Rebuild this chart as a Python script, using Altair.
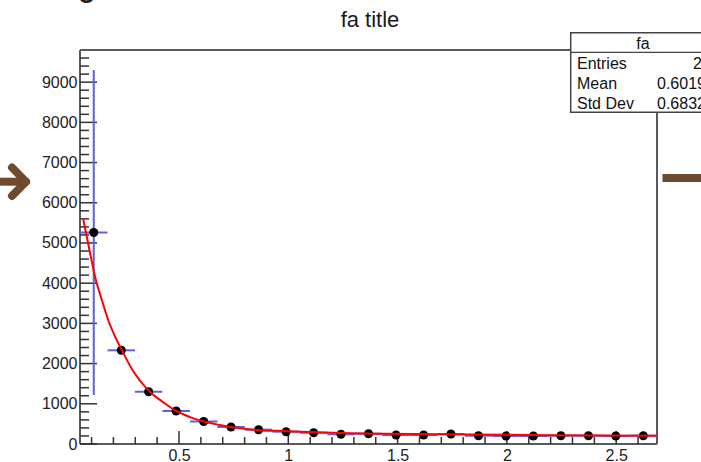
import altair as alt
import pandas as pd

# ---- histogram "fa": bin centres, contents and errors ----
bin_centers = [0.110, 0.236, 0.361, 0.487, 0.613, 0.738, 0.864, 0.990, 1.116, 1.241,
               1.367, 1.493, 1.619, 1.744, 1.870, 1.996, 2.121, 2.247, 2.373, 2.498, 2.624]
bin_half_width = 0.0628
counts = [5260, 2330, 1300, 821, 560, 423, 356, 306, 281, 241,
          256, 224, 224, 249, 206, 199, 199, 206, 206, 199, 206]
count_errors = [4040, 0, 0, 0, 0, 0, 0, 0, 0, 0,
                0, 0, 0, 0, 0, 0, 0, 0, 0, 0, 0]

# ---- fitted function, sampled along x ----
fit_x = [0.062, 0.090, 0.116, 0.146, 0.176, 0.205, 0.238, 0.283, 0.367, 0.430, 0.487,
         0.550, 0.613, 0.680, 0.738, 0.800, 0.866, 0.994, 1.200, 1.450, 1.820, 2.200, 2.687]
fit_y = [5590, 4830, 4160, 3600, 3085, 2700, 2338, 1880, 1300, 1030, 821,
         670, 560, 480, 423, 380, 345, 320, 280, 255, 235, 220, 206]

# ---- axis ticks ----
x_major = [0.5, 1.0, 1.5, 2.0, 2.5]
x_minor = [0.1, 0.2, 0.3, 0.4, 0.6, 0.7, 0.8, 0.9, 1.1, 1.2, 1.3, 1.4, 1.6, 1.7,
           1.8, 1.9, 2.1, 2.2, 2.3, 2.4, 2.6]
y_major = [0, 1000, 2000, 3000, 4000, 5000, 6000, 7000, 8000, 9000]
y_minor = [200, 400, 600, 800, 1200, 1400, 1600, 1800, 2200, 2400, 2600, 2800,
           3200, 3400, 3600, 3800, 4200, 4400, 4600, 4800, 5200, 5400, 5600, 5800,
           6200, 6400, 6600, 6800, 7200, 7400, 7600, 7800, 8200, 8400, 8600, 8800,
           9200, 9400, 9600]

# ---- statistics box ----
stats_title = "fa"
stats_names = ["Entries", "Mean", "Std Dev"]
stats_values = ["21", "0.6019", "0.6832"]

W, H = 577, 394
FONT = "Liberation Sans"
BLUE = "#6060dc"
BROWN = "#6d4b30"
FRAME = "#5a5a5a"
TICK = "#333333"

xs = alt.Scale(domain=[0.0471, 2.6866], nice=False, zero=False)
ys = alt.Scale(domain=[0, 9800], nice=False, zero=False)

# one shared axis definition per channel, used by every layer
y_axis = alt.Axis(values=y_major, format="d", ticks=False, tickSize=0, domain=False,
                  grid=False, labelPadding=3, title=None)
x_axis = alt.Axis(values=x_major, format="~g", ticks=False, tickSize=0, domain=False,
                  grid=False, labelPadding=3, title=None, labelAngle=0)


def X(field):
    return alt.X(field, scale=xs, axis=x_axis)


def Y(field):
    return alt.Y(field, scale=ys, axis=y_axis)


hist = pd.DataFrame({
    "x": bin_centers,
    "y": counts,
    "lo_x": [c - bin_half_width for c in bin_centers],
    "hi_x": [c + bin_half_width for c in bin_centers],
    "lo_y": [c - e for c, e in zip(counts, count_errors)],
    "hi_y": [c + e for c, e in zip(counts, count_errors)],
})
fit = pd.DataFrame({"fx": fit_x, "fy": fit_y})
one = pd.DataFrame({"k": [0]})

# frame around the plot area
frame_top = alt.Chart(one).mark_rule(color=FRAME, strokeWidth=2).encode(
    x=alt.value(0), x2=alt.value(W), y=alt.value(0))
frame_bottom = alt.Chart(one).mark_rule(color=FRAME, strokeWidth=2).encode(
    x=alt.value(0), x2=alt.value(W), y=alt.value(H))
frame_left = alt.Chart(one).mark_rule(color=FRAME, strokeWidth=2).encode(
    x=alt.value(0), y=alt.value(0), y2=alt.value(H))
frame_right = alt.Chart(one).mark_rule(color=FRAME, strokeWidth=2).encode(
    x=alt.value(W), y=alt.value(0), y2=alt.value(H))

# inward ticks
y_major_ticks = alt.Chart(pd.DataFrame({"v": y_major})).mark_rule(
    color=TICK, strokeWidth=1.5).encode(y=Y("v:Q"), x=alt.value(0), x2=alt.value(17))
y_minor_ticks = alt.Chart(pd.DataFrame({"v": y_minor})).mark_rule(
    color=TICK, strokeWidth=1.5).encode(y=Y("v:Q"), x=alt.value(0), x2=alt.value(9))
x_major_ticks = alt.Chart(pd.DataFrame({"v": x_major})).mark_rule(
    color=TICK, strokeWidth=1.5).encode(x=X("v:Q"), y=alt.value(H), y2=alt.value(H - 13))
x_minor_ticks = alt.Chart(pd.DataFrame({"v": x_minor})).mark_rule(
    color=TICK, strokeWidth=1.5).encode(x=X("v:Q"), y=alt.value(H), y2=alt.value(H - 7))

# histogram error bars and markers
err_v = alt.Chart(hist).mark_rule(color=BLUE, strokeWidth=2).encode(
    x=X("x:Q"), y=Y("lo_y:Q"), y2="hi_y:Q")
err_h = alt.Chart(hist).mark_rule(color=BLUE, strokeWidth=2).encode(
    x=X("lo_x:Q"), x2="hi_x:Q", y=Y("y:Q"))
markers = alt.Chart(hist).mark_circle(size=82, color="black", opacity=1).encode(
    x=X("x:Q"), y=Y("y:Q"))

# fit curve
curve = alt.Chart(fit).mark_line(color="#ff0000", strokeWidth=2,
                                 interpolate="monotone").encode(
    x=X("fx:Q"), y=Y("fy:Q"))


def label(text, x, y, size=16, align="left", weight="normal", color="#111111"):
    return alt.Chart(pd.DataFrame({"t": [text]})).mark_text(
        font=FONT, fontSize=size, fontWeight=weight, color=color, align=align,
        baseline="alphabetic").encode(text="t:N", x=alt.value(x), y=alt.value(y))


# title and the clipped glyph at the top-left corner
title = label("fa title", 290, -23.5, size=22, align="center", color="#1a1a1a")
corner = label("o", 6.5, -47, size=28, align="center", weight="bold", color="#222222")

# statistics box
box = alt.Chart(one).mark_rect(fill="white", stroke="#444444", strokeWidth=1.5).encode(
    x=alt.value(490.7), x2=alt.value(650), y=alt.value(-17.3), y2=alt.value(62.3))
box_line = alt.Chart(one).mark_rule(color="#444444", strokeWidth=1.3).encode(
    x=alt.value(490.7), x2=alt.value(650), y=alt.value(2.3))
box_texts = [label(stats_title, 563, -0.8, align="center")]
for name, val, yp, xv in zip(stats_names, stats_values, [19, 39, 59], [613, 577, 577]):
    box_texts.append(label(name, 497, yp))
    box_texts.append(label(val, xv, yp))

# brown arrow on the left and bar on the right
arrow_shaft = alt.Chart(one).mark_rule(color=BROWN, strokeWidth=8).encode(
    x=alt.value(-80), x2=alt.value(-57), y=alt.value(131.7))
arrow_up = alt.Chart(one).mark_rule(color=BROWN, strokeWidth=8, strokeCap="round").encode(
    x=alt.value(-68), x2=alt.value(-54), y=alt.value(117.5), y2=alt.value(131.7))
arrow_down = alt.Chart(one).mark_rule(color=BROWN, strokeWidth=8, strokeCap="round").encode(
    x=alt.value(-68), x2=alt.value(-54), y=alt.value(145.9), y2=alt.value(131.7))
right_bar = alt.Chart(one).mark_rule(color=BROWN, strokeWidth=8).encode(
    x=alt.value(582.5), x2=alt.value(640), y=alt.value(128))

chart = alt.layer(
    frame_top, frame_bottom, frame_left, frame_right,
    y_minor_ticks, y_major_ticks, x_minor_ticks, x_major_ticks,
    err_v, err_h, markers, curve,
    box, box_line, *box_texts,
    title, corner, arrow_shaft, arrow_up, arrow_down, right_bar,
).properties(
    width=W, height=H,
    autosize=alt.AutoSizeParams(type="none"),
    padding={"left": 80, "top": 50, "right": 44, "bottom": 18},
    background="white",
).configure_view(
    strokeWidth=0
).configure_axis(
    labelFont=FONT, labelFontSize=16, labelColor="#222222"
)

chart.save("out.html", embed_options={"renderer": "svg", "actions": False})
